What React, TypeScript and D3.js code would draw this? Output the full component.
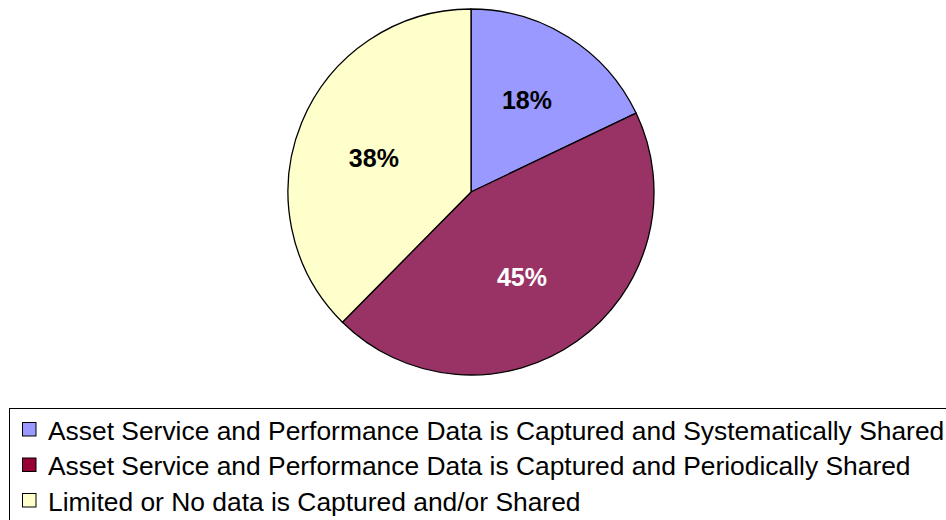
import React, { useEffect, useRef } from 'react';
import * as d3 from 'd3';

const categories = [
  'Asset Service and Performance Data is Captured and Systematically Shared',
  'Asset Service and Performance Data is Captured and Periodically Shared',
  'Limited or No data is Captured and/or Shared',
];
const values = [17.9, 44.5, 37.6];
const labels = ['18%', '45%', '38%'];
const colors = ['#9999FF', '#993366', '#FFFFCC'];
const legendSwatch = ['#9999FF', '#990033', '#FFFFCC'];
const labelColors = ['#000', '#fff', '#000'];

const App = () => {
  const ref = useRef<SVGSVGElement | null>(null);

  useEffect(() => {
    const svg = d3.select(ref.current);
    svg.selectAll('*').remove();

    const cx = 471, cy = 192, r = 183;
    const data = values.map((v, i) => ({ v, i }));

    const pie = d3.pie<{ v: number; i: number }>().value(d => d.v).sort(null);
    const arc = d3.arc<d3.PieArcDatum<{ v: number; i: number }>>().innerRadius(0).outerRadius(r);
    const labelArc = d3.arc<d3.PieArcDatum<{ v: number; i: number }>>().innerRadius(210).outerRadius(0);

    const g = svg.append('g').attr('transform', `translate(${cx},${cy})`);
    const arcs = g.selectAll('g').data(pie(data)).enter().append('g');

    arcs.append('path')
      .attr('d', arc)
      .attr('fill', d => colors[d.data.i])
      .attr('stroke', '#000')
      .attr('stroke-width', 1.3)
      .attr('stroke-linejoin', 'round');

    arcs.append('text')
      .attr('transform', d => {
        const [x, y] = labelArc.centroid(d);
        return `translate(${x - (d.data.i === 1 ? 10 : 0)},${y + (d.data.i === 2 ? 6 : d.data.i === 0 ? -3 : 0)})`;
      })
      .attr('dy', '0.35em')
      .attr('text-anchor', 'middle')
      .style('font-family', '"Liberation Sans", Arial, sans-serif')
      .style('font-weight', 'bold')
      .style('font-size', '25px')
      .style('fill', d => labelColors[d.data.i])
      .text(d => labels[d.data.i]);

    // legend
    const lg = svg.append('g');
    lg.append('rect')
      .attr('x', 9.5).attr('y', 408.5)
      .attr('width', 960).attr('height', 140)
      .attr('fill', '#fff').attr('stroke', '#000').attr('stroke-width', 1);

    const rows = lg.selectAll('g.row').data(categories).enter().append('g')
      .attr('transform', (d, i) => `translate(0,${430 + i * 35.5})`);

    rows.append('rect')
      .attr('x', 22.5).attr('y', -7.5)
      .attr('width', 13.5).attr('height', 13.5)
      .attr('fill', (d, i) => legendSwatch[i])
      .attr('stroke', '#000').attr('stroke-width', 1);

    rows.append('text')
      .attr('x', 48).attr('y', 0)
      .attr('dy', '0.36em')
      .style('font-family', '"Liberation Sans", Arial, sans-serif')
      .style('font-size', '26.4px')
      .style('fill', '#000')
      .text(d => d);
  }, []);

  return (
    <svg ref={ref} width={946} height={520}
      style={{ position: 'absolute', left: 0, top: 0, background: '#fff' }} />
  );
};

export default App;
